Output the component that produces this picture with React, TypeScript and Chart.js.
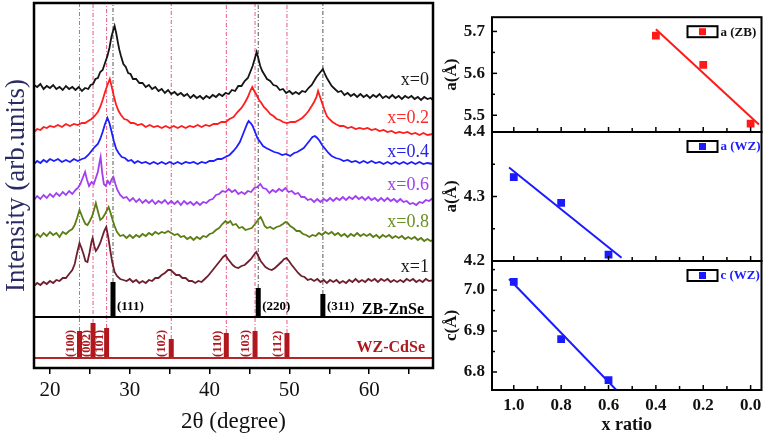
import React, { useEffect, useRef } from 'react';
import { Chart, registerables } from 'chart.js';

Chart.register(...registerables);

const FONT = "'Liberation Serif', 'Times New Roman', serif";

// ---- Left panel: XRD patterns, [2θ (degree), intensity (arb. units, offset stacked)] ----
const xrdX0: [number, number][] = [[18,283],[18.4,281],[18.8,284],[19.2,279],[19.6,282],[20,280],[20.4,283],[20.8,279],[21.2,281],[21.6,278],[22,282],[22.4,279],[22.8,281],[23.2,278],[23.6,281],[24,277],[24.4,280],[24.8,279],[25.1,283],[25.4,284],[25.7,289],[26,290],[26.3,296],[26.6,298],[26.9,305],[27.2,312],[27.45,320],[27.7,331],[27.9,337],[28.1,342],[28.3,335],[28.5,326],[28.7,318],[28.9,312],[29.2,304],[29.5,301],[29.8,295],[30.1,294],[30.4,289],[30.8,289],[31.2,285],[31.6,285],[32,281],[32.4,283],[32.8,279],[33.2,281],[33.6,277],[34,279],[34.4,275],[34.8,278],[35.2,274],[35.6,276],[36,273],[36.4,275],[36.8,272],[37.2,274],[37.6,270],[38,273],[38.4,270],[38.8,272],[39.2,269],[39.6,272],[40,270],[40.4,273],[40.8,271],[41.2,274],[41.6,272],[42,275],[42.4,274],[42.8,278],[43.2,277],[43.6,282],[44,282],[44.4,287],[44.8,290],[45.1,296],[45.4,302],[45.65,309],[45.9,316],[46.1,310],[46.35,302],[46.6,297],[46.9,293],[47.2,289],[47.6,287],[48,283],[48.4,282],[48.8,278],[49.2,279],[49.6,275],[50,277],[50.4,274],[50.8,276],[51.2,274],[51.6,277],[52,276],[52.4,280],[52.8,283],[53.1,287],[53.4,291],[53.7,294],[54,297],[54.2,299],[54.45,294],[54.7,290],[55,286],[55.3,282],[55.7,279],[56.1,276],[56.5,277],[56.9,273],[57.3,275],[57.7,272],[58.1,274],[58.5,271],[58.9,274],[59.3,271],[59.7,273],[60.1,270],[60.5,273],[60.9,271],[61.3,274],[61.7,270],[62.1,272],[62.5,270],[62.9,273],[63.3,270],[63.7,272],[64.1,269],[64.5,272],[64.9,270],[65.3,272],[65.7,269],[66.1,271],[66.5,268],[66.9,271],[67.3,269],[67.7,270],[68,268]];
const xrdX02: [number, number][] = [[18,236],[18.4,239],[18.8,238],[19.2,241],[19.6,240],[20,242],[20.5,241],[21,243],[21.5,241],[22,244],[22.5,242],[23,244],[23.5,243],[24,245],[24.4,245],[24.8,247],[25.2,249],[25.6,252],[26,256],[26.3,261],[26.6,268],[26.9,276],[27.2,283],[27.5,289],[27.75,281],[28,272],[28.3,263],[28.6,257],[28.9,253],[29.3,249],[29.7,248],[30.1,245],[30.5,245],[31,243],[31.5,244],[32,241],[32.5,243],[33,241],[33.5,242],[34,240],[34.5,242],[35,240],[35.5,242],[36,240],[36.5,242],[37,240],[37.5,242],[38,241],[38.5,243],[39,241],[39.5,243],[40,242],[40.5,244],[41,244],[41.5,246],[42,246],[42.5,249],[43,251],[43.5,256],[44,260],[44.4,265],[44.8,271],[45.1,277],[45.35,281],[45.6,277],[45.9,273],[46.2,268],[46.5,265],[46.8,261],[47.2,258],[47.6,254],[48,252],[48.4,249],[48.8,248],[49.2,246],[49.7,245],[50.2,246],[50.7,246],[51.2,248],[51.6,250],[52,253],[52.4,257],[52.8,262],[53.1,266],[53.4,271],[53.6,277],[53.85,271],[54.1,265],[54.4,258],[54.7,252],[55,249],[55.4,246],[55.8,244],[56.3,242],[56.8,242],[57.3,240],[57.8,241],[58.3,239],[58.8,240],[59.3,239],[59.8,240],[60.3,238],[60.8,239],[61.3,237],[61.8,238],[62.3,236],[62.8,237],[63.3,235],[63.8,236],[64.3,235],[64.8,236],[65.3,234],[65.8,235],[66.3,233],[66.8,235],[67.3,233],[68,234]];
const xrdX04: [number, number][] = [[18,204],[18.4,207],[18.8,205],[19.2,208],[19.6,206],[20,209],[20.5,207],[21,209],[21.5,206],[22,208],[22.5,206],[23,209],[23.5,207],[24,209],[24.4,210],[24.8,213],[25.2,217],[25.6,221],[26,224],[26.3,229],[26.6,236],[26.9,244],[27.2,250],[27.45,245],[27.7,237],[28,227],[28.3,219],[28.6,215],[29,211],[29.4,210],[29.8,207],[30.2,208],[30.6,205],[31,207],[31.5,205],[32,206],[32.5,204],[33,206],[33.5,204],[34,206],[34.5,204],[35,206],[35.5,204],[36,206],[36.5,204],[37,206],[37.5,205],[38,206],[38.5,204],[39,206],[39.5,205],[40,207],[40.5,207],[41,209],[41.5,209],[42,211],[42.5,213],[43,217],[43.4,221],[43.8,226],[44.1,232],[44.4,238],[44.7,244],[44.9,247],[45.15,245],[45.4,242],[45.7,236],[46,230],[46.35,226],[46.7,222],[47.1,220],[47.6,218],[48.1,216],[48.6,215],[49.1,213],[49.6,214],[50.1,212],[50.6,215],[51,216],[51.4,218],[51.8,220],[52.2,224],[52.6,228],[52.9,231],[53.2,232],[53.5,230],[53.8,227],[54.1,223],[54.5,219],[54.9,215],[55.3,212],[55.8,210],[56.3,209],[56.8,207],[57.3,208],[57.8,206],[58.3,207],[58.8,205],[59.3,207],[59.8,205],[60.3,207],[60.8,205],[61.3,206],[61.8,204],[62.3,206],[62.8,204],[63.3,206],[63.8,204],[64.3,206],[64.8,204],[65.3,206],[65.8,204],[66.3,206],[66.8,204],[67.3,205],[68,204]];
const xrdX06: [number, number][] = [[18,168],[18.4,172],[18.8,169],[19.2,173],[19.6,170],[20,174],[20.4,171],[20.8,175],[21.2,172],[21.6,176],[22,173],[22.4,177],[22.8,174],[23.2,178],[23.5,180],[23.8,184],[24.1,190],[24.4,196],[24.65,188],[24.9,182],[25.2,186],[25.5,184],[25.75,190],[26,196],[26.2,205],[26.35,211],[26.55,195],[26.75,184],[27,182],[27.25,187],[27.5,184],[27.75,189],[27.95,191],[28.2,184],[28.45,178],[28.8,173],[29.2,170],[29.6,171],[30,167],[30.4,170],[30.8,166],[31.2,169],[31.6,165],[32,168],[32.4,165],[32.8,168],[33.2,164],[33.6,167],[34,165],[34.4,168],[34.8,164],[35.2,167],[35.6,164],[36,167],[36.4,163],[36.8,167],[37.2,164],[37.6,166],[38,163],[38.4,166],[38.8,163],[39.2,166],[39.6,165],[40,168],[40.4,169],[40.8,173],[41.2,174],[41.6,177],[42,176],[42.4,179],[42.8,176],[43.2,178],[43.6,174],[44,176],[44.4,174],[44.8,177],[45.2,176],[45.6,180],[46,181],[46.35,184],[46.7,180],[47.1,179],[47.5,175],[47.9,178],[48.3,176],[48.7,179],[49.1,177],[49.5,180],[49.9,176],[50.3,177],[50.7,174],[51.1,175],[51.5,171],[51.9,171],[52.3,168],[52.7,169],[53.1,166],[53.5,169],[53.9,166],[54.3,169],[54.7,167],[55.1,170],[55.5,167],[55.9,170],[56.3,168],[56.7,171],[57.1,168],[57.5,171],[57.9,169],[58.3,172],[58.7,169],[59.1,171],[59.5,168],[59.9,171],[60.3,168],[60.7,170],[61.1,167],[61.5,170],[61.9,167],[62.3,170],[62.7,167],[63.1,169],[63.5,166],[63.9,169],[64.3,166],[64.7,167],[65.1,164],[65.5,165],[65.9,163],[66.3,166],[66.7,165],[67.1,168],[67.5,167],[68,170]];
const xrdX08: [number, number][] = [[18,130],[18.4,134],[18.8,131],[19.2,135],[19.6,132],[20,136],[20.4,133],[20.8,135],[21.2,131],[21.6,136],[22,134],[22.4,137],[22.8,139],[23.1,143],[23.4,150],[23.7,158],[23.95,153],[24.2,148],[24.45,144],[24.7,143],[25,147],[25.3,152],[25.55,159],[25.75,165],[26,157],[26.3,148],[26.6,150],[26.9,154],[27.15,158],[27.35,161],[27.6,155],[27.85,148],[28.1,142],[28.4,136],[28.8,132],[29.2,133],[29.6,130],[30,133],[30.4,130],[30.8,133],[31.2,131],[31.6,134],[32,132],[32.4,135],[32.8,133],[33.2,136],[33.6,134],[34,136],[34.4,135],[34.8,137],[35.2,135],[35.6,133],[36,134],[36.4,131],[36.8,132],[37.2,129],[37.6,131],[38,128],[38.4,131],[38.8,129],[39.2,132],[39.6,131],[40,134],[40.4,135],[40.8,138],[41.2,140],[41.6,144],[42,147],[42.3,145],[42.6,147],[42.9,143],[43.3,144],[43.7,140],[44.1,141],[44.5,138],[44.9,139],[45.3,140],[45.6,143],[45.9,146],[46.15,149],[46.4,151],[46.65,147],[46.9,142],[47.2,140],[47.6,141],[48,139],[48.4,141],[48.8,142],[49.2,144],[49.5,146],[49.8,145],[50.1,142],[50.5,140],[50.9,137],[51.3,137],[51.7,134],[52.1,133],[52.5,131],[52.9,133],[53.3,132],[53.7,135],[54.1,133],[54.5,136],[54.9,134],[55.3,136],[55.7,133],[56.1,135],[56.5,132],[56.9,134],[57.3,131],[57.7,134],[58.1,132],[58.5,135],[58.9,132],[59.3,134],[59.7,132],[60.1,134],[60.5,131],[60.9,133],[61.3,130],[61.7,133],[62.1,131],[62.5,133],[62.9,130],[63.3,132],[63.7,130],[64.1,132],[64.5,129],[64.9,131],[65.3,129],[65.7,131],[66.1,128],[66.5,130],[66.9,127],[67.3,129],[67.7,127],[68,128]];
const xrdX1: [number, number][] = [[18,82],[18.4,85],[18.8,83],[19.2,86],[19.6,84],[20,87],[20.4,85],[20.8,88],[21.2,87],[21.6,90],[22,90],[22.4,94],[22.8,98],[23.1,104],[23.4,115],[23.7,125],[23.95,120],[24.2,114],[24.45,107],[24.7,106],[24.95,115],[25.2,126],[25.35,130],[25.55,122],[25.75,117],[26,120],[26.3,125],[26.55,131],[26.8,137],[27.05,141],[27.3,131],[27.55,118],[27.8,106],[28.1,96],[28.4,92],[28.8,89],[29.2,88],[29.6,87],[30,89],[30.4,86],[30.8,88],[31.2,85],[31.6,87],[32,85],[32.4,88],[32.8,87],[33.2,90],[33.6,90],[34,93],[34.4,95],[34.8,98],[35.1,98],[35.4,96],[35.8,93],[36.2,93],[36.6,90],[37,90],[37.4,87],[37.8,87],[38.2,85],[38.6,87],[39,86],[39.4,89],[39.8,92],[40.2,96],[40.6,100],[41,104],[41.4,108],[41.7,111],[42,113],[42.3,109],[42.6,106],[42.9,103],[43.2,101],[43.6,100],[44,102],[44.4,103],[44.8,106],[45.2,109],[45.55,113],[45.85,116],[46.1,112],[46.4,107],[46.7,104],[47,101],[47.4,99],[47.8,98],[48.2,100],[48.6,103],[49,106],[49.35,109],[49.65,110],[49.95,107],[50.3,103],[50.7,99],[51.1,95],[51.5,92],[51.9,91],[52.3,88],[52.7,89],[53.1,87],[53.5,89],[53.9,86],[54.3,88],[54.7,85],[55.1,88],[55.5,86],[55.9,88],[56.3,85],[56.7,87],[57.1,85],[57.5,88],[57.9,86],[58.3,89],[58.7,86],[59.1,88],[59.5,86],[59.9,89],[60.3,87],[60.7,89],[61.1,86],[61.5,89],[61.9,87],[62.3,89],[62.7,86],[63.1,88],[63.5,86],[63.9,88],[64.3,86],[64.7,89],[65.1,87],[65.5,89],[65.9,86],[66.3,88],[66.7,86],[67.1,89],[67.5,87],[68,88]];

const sampleSeries = [xrdX0, xrdX02, xrdX04, xrdX06, xrdX08, xrdX1];
const sampleLabels = ['x=0', 'x=0.2', 'x=0.4', 'x=0.6', 'x=0.8', 'x=1'];
const sampleColors = ['#151515', '#ff1e1e', '#1e1eff', '#a03ff2', '#5b7d14', '#6e1f2d'];
const sampleLabelColors = ['#1a1a1a', '#ff2a2a', '#2424e8', '#a040f0', '#6a8f22', '#1a1a1a'];
const sampleLabelLevels = [288, 250, 216, 183, 146, 101];

// reference patterns
const zbAngles = [27.9, 46.1, 54.2];
const zbPlanes = ['(111)', '(220)', '(311)'];
const zbHeights = [35, 29, 23];
const wzAngles = [23.7, 25.4, 27.1, 35.2, 42.1, 45.7, 49.7];
const wzPlanes = ['(100)', '(002)', '(101)', '(102)', '(110)', '(103)', '(112)'];
const wzHeights = [27, 35, 30, 19, 25, 27, 25];
const zbBase = 51;
const wzBase = 10;
const yTopValue = 365;

const twoThetaTicks = [20, 25, 30, 35, 40, 45, 50, 55, 60, 65];

// ---- Right panels: lattice constants vs x ratio ----
const xRatioZB = [0.4, 0.2, 0.0];
const aZB = [5.69, 5.62, 5.48];
const fitZBx = [0.4, -0.035];
const fitZBy = [5.705, 5.478];

const xRatioWZ = [1.0, 0.8, 0.6];
const aWZ = [4.33, 4.29, 4.21];
const fitAWZx = [1.02, 0.545];
const fitAWZy = [4.345, 4.205];

const cWZ = [7.02, 6.88, 6.78];
const fitCWZx = [1.02, 0.567];
const fitCWZy = [7.027, 6.756];

const xRatioMajor = [0, 0.2, 0.4, 0.6, 0.8, 1.0];
const xRatioMinor = [0.1, 0.3, 0.5, 0.7, 0.9];

const RED = '#ff1a1a';
const BLUE = '#1a1aff';

function vline(x: number, y0: number, y1: number) {
  return [{ x, y: y0 }, { x, y: y1 }];
}

function LeftChart() {
  const ref = useRef<HTMLCanvasElement>(null);
  useEffect(() => {
    const datasets: any[] = [];
    sampleSeries.forEach((s, i) => {
      datasets.push({
        data: s.map(([x, y]) => ({ x, y })),
        borderColor: sampleColors[i],
        borderWidth: 1.8,
        pointRadius: 0,
        tension: 0,
        order: 0,
      });
    });
    wzAngles.forEach((a, i) => {
      datasets.push({
        data: vline(a, wzBase + wzHeights[i], yTopValue),
        borderColor: '#ea5a82',
        borderWidth: 1,
        borderDash: [4, 2, 1, 2],
        pointRadius: 0,
        order: 2,
      });
      datasets.push({
        data: vline(a, wzBase, wzBase + wzHeights[i]),
        borderColor: '#b0181e',
        borderWidth: 5,
        borderCapStyle: 'butt',
        pointRadius: 0,
        order: 1,
      });
    });
    zbAngles.forEach((a, i) => {
      datasets.push({
        data: vline(a, zbBase + zbHeights[i], yTopValue),
        borderColor: '#555',
        borderWidth: 1,
        borderDash: [4, 2, 1, 2],
        pointRadius: 0,
        order: 2,
      });
      datasets.push({
        data: vline(a, zbBase, zbBase + zbHeights[i]),
        borderColor: '#000',
        borderWidth: 5,
        borderCapStyle: 'butt',
        pointRadius: 0,
        order: 1,
      });
    });

    const decor = {
      id: 'leftDecor',
      beforeDatasetsDraw(chart: any) {
        const { ctx, scales } = chart;
        const x = scales.x, y = scales.y;
        const yW = y.getPixelForValue(wzBase);
        ctx.save();
        ctx.fillStyle = '#b0181e';
        ctx.font = `bold 12.5px ${FONT}`;
        ctx.textAlign = 'left';
        ctx.textBaseline = 'middle';
        wzPlanes.forEach((t, i) => {
          const px = x.getPixelForValue(wzAngles[i]) + (i === 1 || i === 2 ? -6.5 : -9);
          ctx.save();
          ctx.translate(px, yW - 1);
          ctx.rotate(-Math.PI / 2);
          ctx.fillText(t, 0, 0);
          ctx.restore();
        });
        ctx.restore();
      },
      afterDatasetsDraw(chart: any) {
        const { ctx, chartArea: a, scales } = chart;
        const x = scales.x, y = scales.y;
        const yDiv = y.getPixelForValue(zbBase);
        const yW = y.getPixelForValue(wzBase);
        ctx.save();
        ctx.strokeStyle = '#000';
        ctx.lineWidth = 2;
        ctx.beginPath();
        ctx.moveTo(a.left, yDiv);
        ctx.lineTo(a.right, yDiv);
        ctx.stroke();
        ctx.strokeStyle = '#b3262a';
        ctx.lineWidth = 2;
        ctx.beginPath();
        ctx.moveTo(a.left, yW);
        ctx.lineTo(a.right, yW);
        ctx.stroke();
        ctx.strokeStyle = '#000';
        ctx.lineWidth = 2.5;
        ctx.strokeRect(a.left, a.top, a.right - a.left, a.bottom - a.top);

        ctx.textBaseline = 'middle';
        ctx.textAlign = 'right';
        ctx.font = `18px ${FONT}`;
        sampleLabels.forEach((t, i) => {
          ctx.fillStyle = sampleLabelColors[i];
          ctx.fillText(t, a.right - 4, y.getPixelForValue(sampleLabelLevels[i]));
        });
        ctx.fillStyle = '#000';
        ctx.font = `bold 13px ${FONT}`;
        ctx.textAlign = 'left';
        zbPlanes.forEach((t, i) => {
          ctx.fillText(t, x.getPixelForValue(zbAngles[i]) + 4, yDiv - 10);
        });
        ctx.font = `bold 16px ${FONT}`;
        ctx.textAlign = 'right';
        ctx.fillText('ZB-ZnSe', a.right - 9, yDiv - 7);
        ctx.fillStyle = '#b0181e';
        ctx.fillText('WZ-CdSe', a.right - 8, yW - 10);
        ctx.restore();
      },
    };

    const chart = new Chart(ref.current!, {
      type: 'line',
      data: { datasets },
      options: {
        animation: false,
        responsive: false,
        devicePixelRatio: 1,
        layout: { padding: { top: 3, right: 12, left: 0, bottom: 0 } },
        plugins: { legend: { display: false }, tooltip: { enabled: false } },
        scales: {
          x: {
            type: 'linear',
            min: 18,
            max: 68,
            afterBuildTicks: (s: any) => {
              s.ticks = twoThetaTicks.map((v) => ({ value: v }));
            },
            afterFit: (s: any) => {
              s.height = 69;
            },
            ticks: {
              callback: (v: any) => (Number(v) % 10 === 0 ? String(v) : ''),
              font: { family: FONT, size: 21 },
              color: '#111',
              padding: 4,
              maxRotation: 0,
              autoSkip: false,
            },
            grid: { display: true, drawOnChartArea: false, drawTicks: true, tickLength: 6, color: '#000', lineWidth: 1.5 },
            border: { display: false },
            title: { display: true, text: '2θ (degree)', font: { family: FONT, size: 23 }, color: '#111', padding: { top: 0, bottom: 1 } },
          },
          y: {
            type: 'linear',
            min: 0,
            max: yTopValue,
            afterFit: (s: any) => {
              s.width = 34;
            },
            ticks: { display: false },
            grid: { display: false, drawTicks: false },
            border: { display: false },
            title: { display: true, text: 'Intensity (arb.units)', font: { family: FONT, size: 27 }, color: '#2b2b63', padding: { top: 1, bottom: 0 } },
          },
        },
      } as any,
      plugins: [decor],
    });
    return () => chart.destroy();
  }, []);
  return <canvas ref={ref} width={445} height={437} style={{ position: 'absolute', left: 0, top: 0, width: 445, height: 437 }} />;
}

interface PanelProps {
  padTop: number;
  padBottom: number;
  yMin: number;
  yMax: number;
  yMajor: number[];
  yMinor: number[];
  yTitle: string;
  xs: number[];
  ys: number[];
  fitX: number[];
  fitY: number[];
  color: string;
  legend: string;
  legendColor: string;
  showX: boolean;
}

function Panel(p: PanelProps) {
  const ref = useRef<HTMLCanvasElement>(null);
  useEffect(() => {
    const decor = {
      id: 'panelDecor',
      afterDatasetsDraw(chart: any) {
        const { ctx, chartArea: a, scales } = chart;
        const x = scales.x, y = scales.y;
        ctx.save();
        ctx.strokeStyle = '#000';
        ctx.lineWidth = 1.5;
        const tick = (x0: number, y0: number, x1: number, y1: number) => {
          ctx.beginPath();
          ctx.moveTo(x0, y0);
          ctx.lineTo(x1, y1);
          ctx.stroke();
        };
        xRatioMajor.forEach((v) => {
          const px = x.getPixelForValue(v);
          tick(px, a.bottom, px, a.bottom - 5);
        });
        xRatioMinor.forEach((v) => {
          const px = x.getPixelForValue(v);
          tick(px, a.bottom, px, a.bottom - 4);
        });
        p.yMajor.forEach((v) => {
          const py = y.getPixelForValue(v);
          tick(a.left, py, a.left + 5, py);
        });
        p.yMinor.forEach((v) => {
          const py = y.getPixelForValue(v);
          tick(a.left, py, a.left + 3, py);
        });
        ctx.lineWidth = 2;
        ctx.strokeRect(a.left, a.top, a.right - a.left, a.bottom - a.top);
        // legend
        const bx = a.right - 74, by = a.top + 9;
        ctx.strokeRect(bx, by, 30, 11);
        ctx.fillStyle = p.color;
        ctx.fillRect(bx + 11.5, by + 2, 7, 7);
        ctx.fillStyle = p.legendColor;
        ctx.font = `bold 13px ${FONT}`;
        ctx.textAlign = 'left';
        ctx.textBaseline = 'middle';
        ctx.fillText(p.legend, a.right - 41, by + 6);
        ctx.restore();
      },
    };
    const chart = new Chart(ref.current!, {
      type: 'line',
      data: {
        datasets: [
          {
            data: p.xs.map((x, i) => ({ x, y: p.ys[i] })),
            showLine: false,
            pointStyle: 'rect',
            pointRadius: 5.5,
            pointBackgroundColor: p.color,
            pointBorderWidth: 0,
            borderColor: p.color,
          },
          {
            data: p.fitX.map((x, i) => ({ x, y: p.fitY[i] })),
            borderColor: p.color,
            borderWidth: 2,
            pointRadius: 0,
          },
        ],
      },
      options: {
        animation: false,
        responsive: false,
        devicePixelRatio: 1,
        layout: { padding: { top: p.padTop, right: 3, left: 0, bottom: p.padBottom } },
        plugins: { legend: { display: false }, tooltip: { enabled: false } },
        scales: {
          x: {
            type: 'linear',
            reverse: true,
            min: -0.046,
            max: 1.092,
            display: p.showX,
            afterBuildTicks: (s: any) => {
              s.ticks = xRatioMajor.map((v) => ({ value: v }));
            },
            afterFit: (s: any) => {
              if (p.showX) s.height = 47;
            },
            ticks: {
              callback: (v: any) => Number(v).toFixed(1),
              font: { family: FONT, size: 17, weight: 'bold' },
              color: '#111',
              padding: 5,
              maxRotation: 0,
              autoSkip: false,
            },
            grid: { display: false, drawTicks: false },
            border: { display: false },
            title: { display: true, text: 'x ratio', font: { family: FONT, size: 18, weight: 'bold' }, color: '#111', padding: { top: 0, bottom: 1 } },
          },
          y: {
            type: 'linear',
            min: p.yMin,
            max: p.yMax,
            afterBuildTicks: (s: any) => {
              s.ticks = p.yMajor.map((v) => ({ value: v }));
            },
            afterFit: (s: any) => {
              s.width = 52;
            },
            ticks: {
              callback: (v: any) => Number(v).toFixed(1),
              font: { family: FONT, size: 17, weight: 'bold' },
              color: '#111',
              padding: 7,
              autoSkip: false,
            },
            grid: { display: false, drawTicks: false },
            border: { display: false },
            title: { display: true, text: p.yTitle, font: { family: FONT, size: 17, weight: 'bold' }, color: '#111', padding: { top: 1, bottom: 0 } },
          },
        },
      } as any,
      plugins: [decor],
    });
    return () => chart.destroy();
  }, []);
  return <canvas ref={ref} width={327} height={437} style={{ position: 'absolute', left: 440, top: 0, width: 327, height: 437 }} />;
}

export default function App() {
  return (
    <div style={{ position: 'fixed', left: 0, top: 0, width: 767, height: 437, background: '#fff', overflow: 'hidden' }}>
      <LeftChart />
      <Panel padTop={3} padBottom={305} yMin={5.46} yMax={5.734} yMajor={[5.5, 5.6, 5.7]} yMinor={[5.55, 5.65]} yTitle="a(Å)"
        xs={xRatioZB} ys={aZB} fitX={fitZBx} fitY={fitZBy} color={RED} legend="a (ZB)" legendColor="#111" showX={false} />
      <Panel padTop={132} padBottom={176} yMin={4.2} yMax={4.4} yMajor={[4.2, 4.3, 4.4]} yMinor={[4.25, 4.35]} yTitle="a(Å)"
        xs={xRatioWZ} ys={aWZ} fitX={fitAWZx} fitY={fitAWZy} color={BLUE} legend="a (WZ)" legendColor={BLUE} showX={false} />
      <Panel padTop={261} padBottom={0} yMin={6.756} yMax={7.071} yMajor={[6.8, 6.9, 7.0]} yMinor={[6.85, 6.95, 7.05]} yTitle="c(Å)"
        xs={xRatioWZ} ys={cWZ} fitX={fitCWZx} fitY={fitCWZy} color={BLUE} legend="c (WZ)" legendColor={BLUE} showX={true} />
    </div>
  );
}
